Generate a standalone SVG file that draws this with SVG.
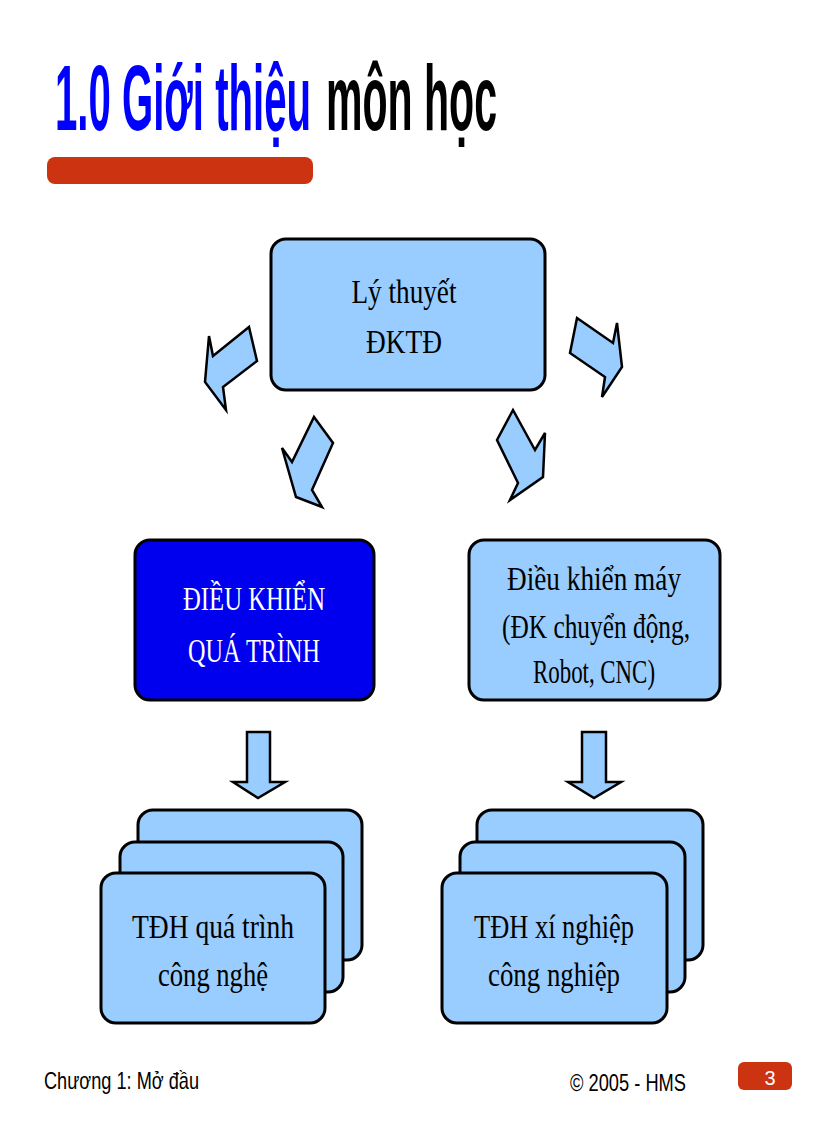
<svg xmlns="http://www.w3.org/2000/svg" width="816" height="1123" viewBox="0 0 816 1123">
<style>
.b{fill:#99ccff;stroke:#000;stroke-width:3}
.t{font-family:"Liberation Serif",serif;font-size:33px;text-anchor:middle;fill:#000}
.a{fill:#99ccff;stroke:#000;stroke-width:2.5;stroke-linejoin:miter}
.h{font-family:"Liberation Sans",sans-serif;font-weight:bold;font-size:92px}
</style>
<rect width="816" height="1123" fill="#fff"/>
<text class="h" x="55" y="130" fill="#0000ff" textLength="256" lengthAdjust="spacingAndGlyphs">1.0 Giới thiệu</text>
<text class="h" x="326" y="130" fill="#000" textLength="171" lengthAdjust="spacingAndGlyphs">môn học</text>
<rect x="47" y="157" width="266" height="27" rx="8" fill="#cc3311"/>
<g id="connectors">
<polygon class="a" points="249,327 257,361 223,387 226,410 205,382 209,336 213,356"/>
<polygon class="a" points="577,318 613,343 617,323 622,367 602,397 605,377 570,353"/>
<polygon class="a" points="314,417 333,443 312,490 322,507 296,497 282,448 292,462"/>
<polygon class="a" points="513,410 535,450 545,433 543,477 510,500 518,483 497,440"/>
<polygon class="a" points="247,732 270,732 270,782 285,782 258,798 233,782 247,782"/>
<polygon class="a" points="582,732 606,732 606,782 621,782 594,798 568,782 582,782"/>
</g>
<g id="n1"><rect class="b" x="271" y="239" width="274" height="151" rx="15"/>
<text class="t" x="404" y="303" textLength="105" lengthAdjust="spacingAndGlyphs">Lý thuyết</text><text class="t" x="404" y="353" textLength="76" lengthAdjust="spacingAndGlyphs">ĐKTĐ</text></g>
<g id="n2"><rect x="135" y="540" width="239" height="160" rx="15" fill="#0000ee" stroke="#000" stroke-width="3"/>
<text class="t" x="254" y="610" style="fill:#fff" textLength="142" lengthAdjust="spacingAndGlyphs">ĐIỀU KHIỂN</text><text class="t" x="254" y="662" style="fill:#fff" textLength="132" lengthAdjust="spacingAndGlyphs">QUÁ TRÌNH</text></g>
<g id="n3"><rect class="b" x="469" y="540" width="251" height="160" rx="15"/>
<text class="t" x="594" y="590" textLength="174" lengthAdjust="spacingAndGlyphs">Điều khiển máy</text><text class="t" x="596" y="638" textLength="188" lengthAdjust="spacingAndGlyphs">(ĐK chuyển động,</text><text class="t" x="594" y="683" textLength="122" lengthAdjust="spacingAndGlyphs">Robot, CNC)</text></g>
<g id="n4"><rect class="b" x="138" y="810" width="224" height="150" rx="15"/><rect class="b" x="120" y="842" width="223" height="150" rx="15"/><rect class="b" x="101" y="873" width="224" height="150" rx="15"/>
<text class="t" x="213" y="938" textLength="162" lengthAdjust="spacingAndGlyphs">TĐH quá trình</text><text class="t" x="213" y="986" textLength="110" lengthAdjust="spacingAndGlyphs">công nghệ</text></g>
<g id="n5"><rect class="b" x="477" y="810" width="226" height="150" rx="15"/><rect class="b" x="460" y="842" width="225" height="150" rx="15"/><rect class="b" x="442" y="873" width="225" height="150" rx="15"/>
<text class="t" x="554" y="938" textLength="160" lengthAdjust="spacingAndGlyphs">TĐH xí nghiệp</text><text class="t" x="554" y="986" textLength="132" lengthAdjust="spacingAndGlyphs">công nghiệp</text></g>
<text x="44" y="1089" font-family="Liberation Sans, sans-serif" font-size="24" textLength="155" lengthAdjust="spacingAndGlyphs">Chương 1: Mở đầu</text>
<text x="570" y="1091" font-family="Liberation Sans, sans-serif" font-size="24" textLength="116" lengthAdjust="spacingAndGlyphs">© 2005 - HMS</text>
<rect x="738" y="1062" width="54" height="28" rx="6" fill="#cc3311"/>
<text x="770" y="1085" font-family="Liberation Sans, sans-serif" font-size="20" fill="#fff" text-anchor="middle">3</text>
</svg>
